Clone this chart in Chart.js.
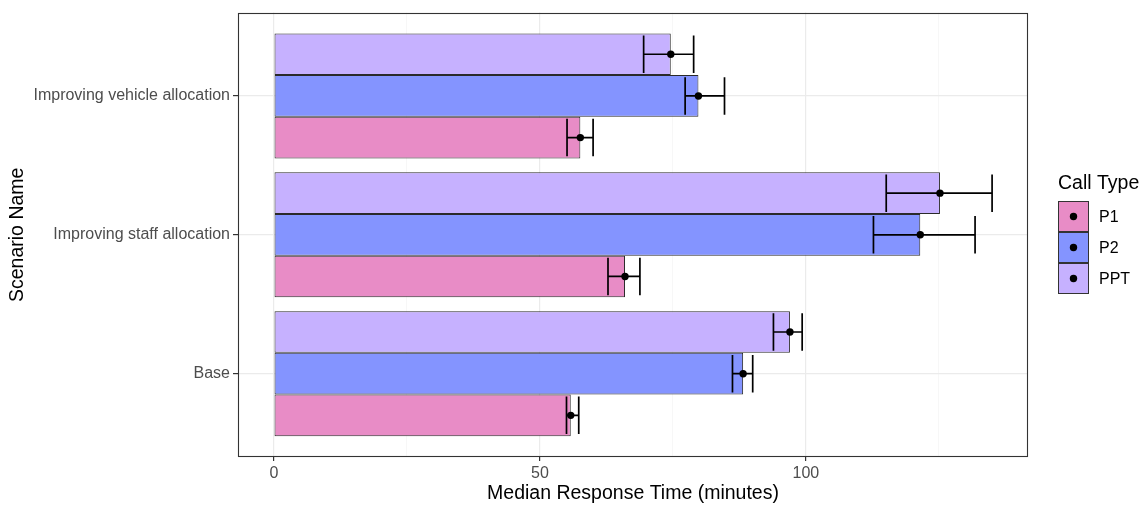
<!DOCTYPE html>
<html>
<head>
<meta charset="utf-8">
<script src="https://cdn.jsdelivr.net/npm/chart.js@4"></script>
<style>
  html, body { margin: 0; padding: 0; background: #fff; }
  #wrap { width: 1143px; height: 507px; position: relative; }
</style>
</head>
<body>
<div id="wrap"><canvas id="myChart"></canvas></div>
<script>
// scenarios from bottom to top
const scenarios = ["Base", "Improving staff allocation", "Improving vehicle allocation"];
const callTypes = ["P1", "P2", "PPT"];
const callColors = ["#E88CC6", "#8494FF", "#C6B1FF"];

// median response time (minutes), same order as scenarios
const medianP1 = [55.8, 66.0, 57.6];
const medianP2 = [88.2, 121.5, 79.8];
const medianPPT = [97.0, 125.2, 74.6];
// error bar ends
const lowP1 = [55.0, 62.8, 55.1];
const highP1 = [57.3, 68.8, 60.0];
const lowP2 = [86.2, 112.7, 77.3];
const highP2 = [90.0, 131.8, 84.7];
const lowPPT = [93.9, 115.1, 69.5];
const highPPT = [99.3, 135.0, 78.9];

const xTicks = [0, 25, 50, 75, 100, 125];

Chart.defaults.font.family = "'Liberation Sans', Arial, sans-serif";

function makeData(med, lo, hi) {
  return med.map((v, i) => ({ x: v, y: i + 1, lo: lo[i], hi: hi[i] }));
}

function isMajor(ctx) {
  return ctx.tick && ctx.tick.value % 50 === 0;
}

// error bars + points on top of the bars
const errorBars = {
  id: "errorBars",
  afterDatasetsDraw(chart) {
    const ctx = chart.ctx;
    const xs = chart.scales.x;
    chart.data.datasets.forEach((ds, di) => {
      const meta = chart.getDatasetMeta(di);
      meta.data.forEach((bar, j) => {
        const d = ds.data[j];
        const y = bar.y;
        const h = bar.height * 0.45;
        const x0 = xs.getPixelForValue(d.lo);
        const x1 = xs.getPixelForValue(d.hi);
        const xm = xs.getPixelForValue(d.x);
        ctx.save();
        ctx.strokeStyle = "#000";
        ctx.lineWidth = 1.7;
        ctx.beginPath();
        ctx.moveTo(x0, y); ctx.lineTo(x1, y);
        ctx.moveTo(x0, y - h); ctx.lineTo(x0, y + h);
        ctx.moveTo(x1, y - h); ctx.lineTo(x1, y + h);
        ctx.stroke();
        ctx.fillStyle = "#000";
        ctx.beginPath();
        ctx.arc(xm, y, 3.7, 0, Math.PI * 2);
        ctx.fill();
        ctx.restore();
      });
    });
  }
};

// panel border, axis titles and legend, ggplot style
const decorations = {
  id: "decorations",
  afterDraw(chart) {
    const ctx = chart.ctx;
    const a = chart.chartArea;
    ctx.save();
    ctx.strokeStyle = "#333";
    ctx.lineWidth = 1.1;
    ctx.strokeRect(Math.round(a.left) + 0.5, Math.round(a.top) + 0.5,
      Math.round(a.right - a.left) - 1, Math.round(a.bottom - a.top) - 1);

    ctx.fillStyle = "#000";
    ctx.font = "19.5px 'Liberation Sans', Arial, sans-serif";
    ctx.textAlign = "center";
    ctx.textBaseline = "alphabetic";
    ctx.fillText("Median Response Time (minutes)", (a.left + a.right) / 2, 499);

    ctx.save();
    ctx.translate(23, (a.top + a.bottom) / 2);
    ctx.rotate(-Math.PI / 2);
    ctx.fillText("Scenario Name", 0, 0);
    ctx.restore();

    // legend
    ctx.textAlign = "left";
    ctx.fillText("Call Type", 1058, 189);
    const keyX = 1058, keyY = 201, keySize = 31;
    ctx.font = "16px 'Liberation Sans', Arial, sans-serif";
    ctx.textBaseline = "middle";
    callTypes.forEach((name, i) => {
      const y = keyY + i * keySize;
      ctx.fillStyle = callColors[i];
      ctx.fillRect(keyX, y, keySize, keySize);
      ctx.strokeStyle = "#333";
      ctx.lineWidth = 1;
      ctx.strokeRect(keyX + 0.5, y + 0.5, keySize - 1, keySize - 1);
      ctx.fillStyle = "#000";
      ctx.beginPath();
      ctx.arc(keyX + keySize / 2, y + keySize / 2, 3.7, 0, Math.PI * 2);
      ctx.fill();
      ctx.fillText(name, 1099, y + keySize / 2 + 1);
    });
    ctx.restore();
  }
};

window.onload = function() {
  const ctx = document.getElementById("myChart").getContext("2d");
  const common = { borderColor: "#2a2a2a", borderWidth: 1, borderSkipped: false };
  myChart = new Chart(ctx, {
    type: "bar",
    data: {
      datasets: [
        Object.assign({ label: "PPT", data: makeData(medianPPT, lowPPT, highPPT), backgroundColor: callColors[2] }, common),
        Object.assign({ label: "P2", data: makeData(medianP2, lowP2, highP2), backgroundColor: callColors[1] }, common),
        Object.assign({ label: "P1", data: makeData(medianP1, lowP1, highP1), backgroundColor: callColors[0] }, common)
      ]
    },
    options: {
      indexAxis: "y",
      responsive: true,
      maintainAspectRatio: false,
      animation: false,
      layout: { padding: { top: 9, right: 115, left: 0, bottom: 0 } },
      datasets: { bar: { categoryPercentage: 0.9, barPercentage: 1 } },
      plugins: {
        legend: { display: false },
        tooltip: { enabled: false }
      },
      scales: {
        x: {
          type: "linear",
          min: -6.75,
          max: 141.75,
          afterBuildTicks: s => { s.ticks = xTicks.map(v => ({ value: v })); },
          afterFit: s => { s.height = 50; },
          ticks: {
            callback: v => (v % 50 === 0 ? String(v) : ""),
            color: "#4d4d4d",
            font: { size: 16 },
            padding: 3,
            maxRotation: 0,
            autoSkip: false
          },
          grid: {
            color: c => (isMajor(c) ? "#ebebeb" : "#f4f4f4"),
            lineWidth: c => (isMajor(c) ? 1.2 : 0.7),
            tickLength: 4,
            tickColor: c => (isMajor(c) ? "#333" : "rgba(0,0,0,0)")
          },
          border: { display: false }
        },
        y: {
          type: "linear",
          min: 0.4,
          max: 3.6,
          offset: false,
          afterBuildTicks: s => { s.ticks = scenarios.map((n, i) => ({ value: i + 1 })); },
          afterFit: s => { s.width = 238; },
          ticks: {
            callback: v => scenarios[v - 1] || "",
            color: "#4d4d4d",
            font: { size: 16 },
            padding: 3,
            autoSkip: false
          },
          grid: {
            offset: false,
            color: "#ebebeb",
            lineWidth: 1.2,
            tickLength: 5,
            tickColor: "#333"
          },
          border: { display: false }
        }
      }
    },
    plugins: [errorBars, decorations]
  });
};
</script>
</body>
</html>
